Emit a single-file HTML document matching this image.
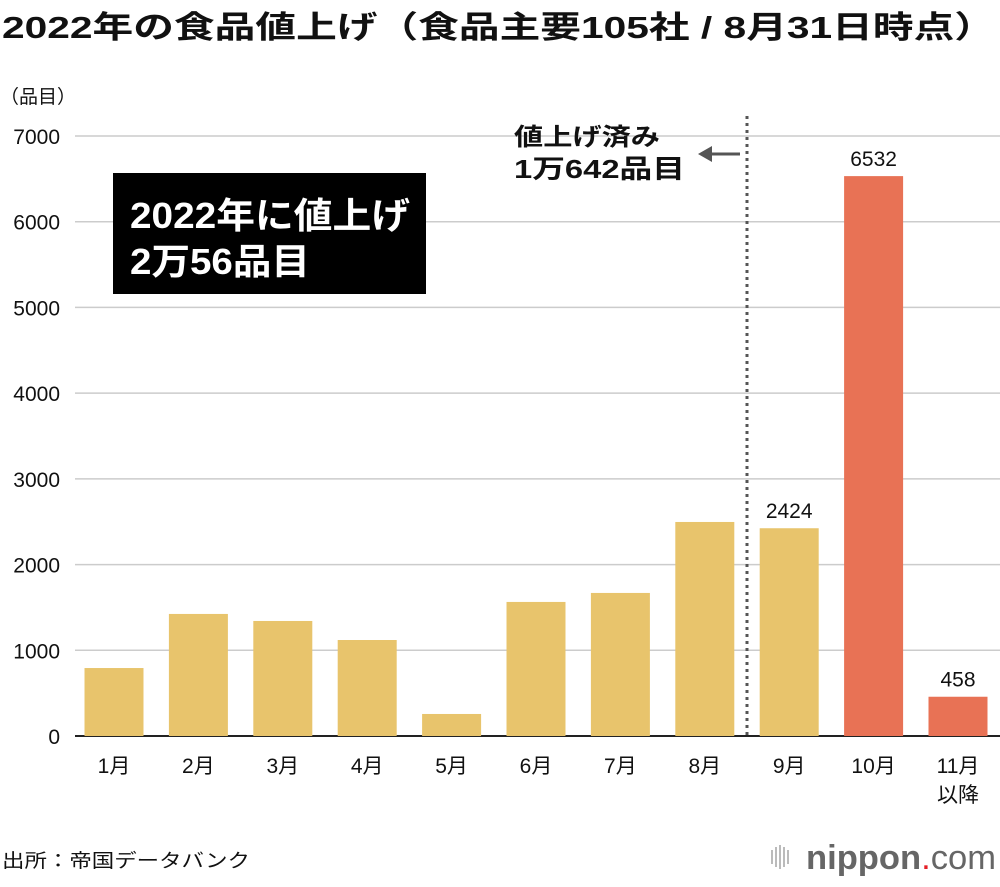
<!DOCTYPE html>
<html><head><meta charset="utf-8"><style>
body{margin:0;background:#fff;width:1000px;height:882px;overflow:hidden;font-family:"Liberation Sans","Noto Sans CJK JP",sans-serif;}
svg text{font-family:"Liberation Sans","Noto Sans CJK JP",sans-serif;}
</style></head><body>
<svg id="c" width="1000" height="882" xmlns="http://www.w3.org/2000/svg">
<text x="2" y="38" font-size="31" font-weight="bold" fill="#111" textLength="993" lengthAdjust="spacingAndGlyphs">2022年の食品値上げ（食品主要105社 / 8月31日時点）</text>
<text x="0" y="103" font-size="19" fill="#111">（品目）</text>
<g id="grid"></g>
<g id="bars"></g>
<line x1="747" y1="116" x2="747" y2="736" stroke="#555" stroke-width="3" stroke-dasharray="3,4"/>
<text x="514" y="145" font-size="24" font-weight="bold" fill="#111" textLength="146" lengthAdjust="spacingAndGlyphs">値上げ済み</text>
<text x="514" y="178" font-size="26" font-weight="bold" fill="#111" textLength="171" lengthAdjust="spacingAndGlyphs">1万642品目</text>
<g><line x1="740" y1="154" x2="710" y2="154" stroke="#555" stroke-width="3"/><polygon points="698,154 712,146 712,162" fill="#555"/></g>
<rect x="113" y="173" width="313" height="121" fill="#000"/>
<text x="130" y="228" font-size="36" font-weight="bold" fill="#fff" textLength="280" lengthAdjust="spacingAndGlyphs">2022年に値上げ</text>
<text x="130" y="274" font-size="36" font-weight="bold" fill="#fff" textLength="180" lengthAdjust="spacingAndGlyphs">2万56品目</text>
<text x="2" y="867" font-size="19" fill="#111" textLength="248" lengthAdjust="spacingAndGlyphs">出所：帝国データバンク</text>
<g>
<rect x="771" y="850" width="2" height="14" fill="#bbb"/><rect x="775" y="847" width="2" height="20" fill="#bbb"/><rect x="779" y="845" width="2" height="24" fill="#bbb"/><rect x="783" y="847" width="2" height="20" fill="#bbb"/><rect x="787" y="850" width="2" height="14" fill="#bbb"/>
<text x="806" y="869" font-size="34" fill="#666" textLength="190" lengthAdjust="spacingAndGlyphs"><tspan font-weight="bold">nippon</tspan><tspan fill="#e41e26">.</tspan><tspan>com</tspan></text></g>
</svg>
<script>
const months=["1月","2月","3月","4月","5月","6月","7月","8月","9月","10月","11月"];
const values=[793,1424,1342,1120,257,1564,1669,2497,2424,6532,458];
const labelShown=[false,false,false,false,false,false,false,false,true,true,true];
const ticks=[0,1000,2000,3000,4000,5000,6000,7000];
const NS="http://www.w3.org/2000/svg";
const y=v=>736-v*600/7000;
const x=i=>114+i*84.4;
function mk(t,a,p){const e=document.createElementNS(NS,t);for(const k in a)e.setAttribute(k,a[k]);p.appendChild(e);return e;}
const g=document.getElementById('grid'),b=document.getElementById('bars');
ticks.forEach(t=>{
 const l=mk('line',{x1:75,x2:1000,y1:y(t),y2:y(t),stroke:t===0?'#222':'#ccc','stroke-width':t===0?2:1.5},g);
 
 
 const tx=mk('text',{x:60,y:y(t)+8,'font-size':21,'text-anchor':'end',fill:'#111'},g);
 tx.textContent=t;
 
 
});
values.forEach((v,i)=>{
 const r=mk('rect',{x:x(i)-29.5,y:y(v),width:59,height:736-y(v),fill:i>=9?'#e87255':'#e8c46c'},b);
 
 
 const tl=mk('text',{x:x(i),y:773,'font-size':21,'text-anchor':'middle',fill:'#111'},b);
 tl.textContent=months[i];
 
 
 if(labelShown[i]){
  const vl=mk('text',{x:x(i),y:y(v)-10,'font-size':21,'text-anchor':'middle',fill:'#111'},b);
  vl.textContent=v;
  
  
 }
});
const ex=mk('text',{x:x(10),y:802,'font-size':21,'text-anchor':'middle',fill:'#111'},b);
ex.textContent='以降';


</script>
</body></html>
